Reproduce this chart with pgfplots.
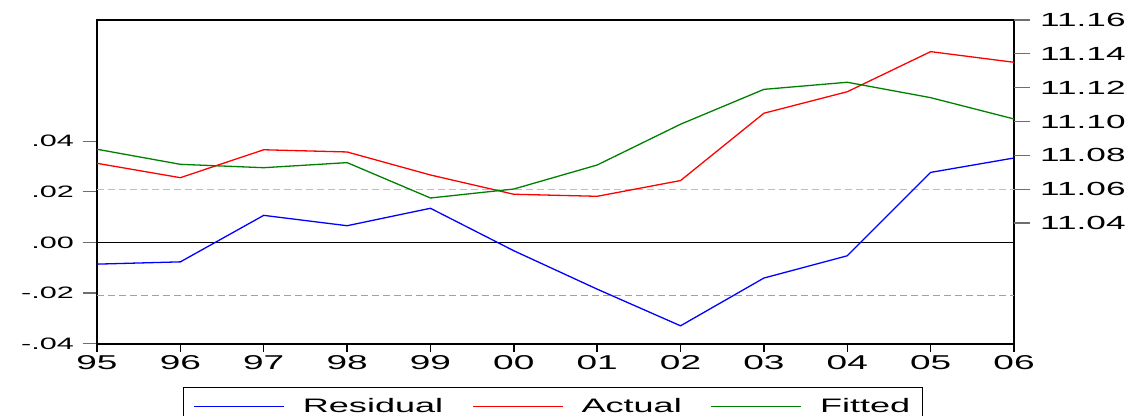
\documentclass[border=0pt]{standalone}
\usepackage{fontspec}
\setmainfont{Liberation Sans}
\newfontfamily\wide{Liberation Sans}[FakeStretch=1.85]
\usepackage{pgfplots}
\pgfplotsset{compat=1.18}
\definecolor{egreen}{RGB}{0,128,0}
\definecolor{dashgray}{RGB}{190,190,190}
\definecolor{tickgray}{RGB}{110,110,110}

\pgfplotstableread{
x res act fit
0  -0.0086 11.0753 11.0836
1  -0.0077 11.0668 11.0747
2   0.0107 11.0833 11.0727
3   0.0066 11.0820 11.0757
4   0.0135 11.0684 11.0548
5  -0.0033 11.0570 11.0601
6  -0.0185 11.0558 11.0743
7  -0.0330 11.0651 11.0984
8  -0.0141 11.1049 11.1190
9  -0.0053 11.1176 11.1232
10  0.0277 11.1413 11.1141
11  0.0334 11.1350 11.1015
}\data

\begin{document}
\begin{tikzpicture}
\useasboundingbox (-97bp,-72bp) rectangle (1048bp,344bp);
% left axis: residual
\begin{axis}[
  at={(0,0)}, anchor=south west,
  scale only axis, width=917bp, height=324bp,
  xmin=0, xmax=11, ymin=-0.0402, ymax=0.0880,
  axis lines=box,
  x axis line style={line width=1.6bp},
  y axis line style={line width=2.4bp},
  xtick=\empty,
  scaled y ticks=false,
  ytick={-0.04,-0.02,0,0.02,0.04},
  yticklabels={-.04,-.02,.00,.02,.04},
  ytick pos=left, tick align=outside,
  major tick length=14bp,
  y tick style={tickgray, line width=1.2bp},
  yticklabel style={font=\wide\fontsize{16.5bp}{18bp}\selectfont, inner sep=0pt, xshift=-9bp},
  clip=false,
]
\draw[dashgray, line width=1.2bp, dash pattern=on 7bp off 4bp] (axis cs:0,0.0210) -- (axis cs:11,0.0210);
\draw[dashgray!85!black, line width=1.2bp, dash pattern=on 7bp off 4bp] (axis cs:0,-0.0210) -- (axis cs:11,-0.0210);
\draw[black, line width=1bp] (axis cs:0,0) -- (axis cs:11,0);
\addplot[blue, line width=1.3bp, mark=none] table[x=x, y=res] {\data};
\end{axis}
% x ticks
\begin{axis}[
  at={(0,0)}, anchor=south west,
  scale only axis, width=917bp, height=324bp,
  xmin=0, xmax=11, ymin=0, ymax=1,
  hide y axis,
  axis x line*=bottom,
  x axis line style={draw=none},
  xtick={0,...,11},
  xticklabels={95,96,97,98,99,00,01,02,03,04,05,06},
  tick align=outside, major tick length=8bp,
  x tick style={black, line width=1.4bp},
  xticklabel style={font=\wide\fontsize{20bp}{22bp}\selectfont, inner sep=0pt, yshift=-3bp},
]
\end{axis}
% right axis: actual, fitted
\begin{axis}[
  at={(0,0)}, anchor=south west,
  scale only axis, width=917bp, height=324bp,
  xmin=0, xmax=11, ymin=10.9685, ymax=11.16,
  axis y line*=right,
  hide x axis,
  scaled y ticks=false,
  y axis line style={draw=none},
  ytick={11.04,11.06,11.08,11.10,11.12,11.14,11.16},
  yticklabels={11.04,11.06,11.08,11.10,11.12,11.14,11.16},
  tick align=outside, major tick length=16bp,
  y tick style={tickgray, line width=1.2bp},
  yticklabel style={font=\wide\fontsize{19bp}{20bp}\selectfont, inner sep=0pt, xshift=10bp},
  clip=false,
  legend columns=3,
  legend cell align=left,
  legend image post style={xscale=5.29},
  legend style={at={(axis description cs:0.0938,-0.1327)}, anchor=north west,
    line width=1.2bp,
    font=\wide\fontsize{19.5bp}{21bp}\selectfont,
    inner xsep=10bp, inner ysep=9bp,
    /tikz/every odd column/.append style={column sep=16bp},
    /tikz/every even column/.append style={column sep=27bp}},
]
\addlegendimage{blue, line width=1.3bp}
\addlegendentry{Residual}
\addplot[red, line width=1.3bp, mark=none] table[x=x, y=act] {\data};
\addlegendentry{Actual}
\addplot[egreen, line width=1.3bp, mark=none] table[x=x, y=fit] {\data};
\addlegendentry{Fitted}
\end{axis}
\end{tikzpicture}
\end{document}
